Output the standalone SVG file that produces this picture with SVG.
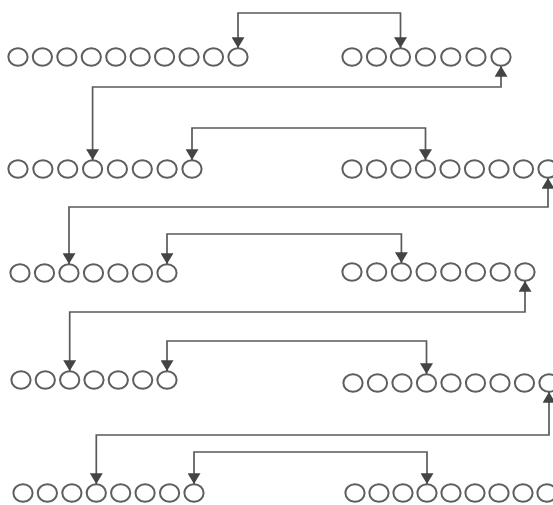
<svg xmlns="http://www.w3.org/2000/svg" xmlns:xlink="http://www.w3.org/1999/xlink" width="553" height="505" viewBox="0 0 553 505">
<style>
.o{fill:none;stroke:#5e5e5e;stroke-width:2}
.w{fill:none;stroke:#5a5a5a;stroke-width:1.7;marker-start:url(#ah);marker-end:url(#ah)}
</style>
<defs>
<ellipse id="o" class="o" cx="0" cy="0" rx="9.6" ry="8.8"/>
<marker id="ah" markerUnits="userSpaceOnUse" markerWidth="13" markerHeight="13" viewBox="0 0 10 12" refX="10" refY="6" orient="auto-start-reverse">
<path d="M0,0 L10,6 L0,12 z" fill="#444"/>
</marker>
</defs>
<rect width="553" height="505" fill="#fff"/>
<g id="row1-left">
<use href="#o" x="18" y="57"/><use href="#o" x="42.4" y="57"/><use href="#o" x="66.9" y="57"/><use href="#o" x="91.3" y="57"/><use href="#o" x="115.8" y="57"/><use href="#o" x="140.2" y="57"/><use href="#o" x="164.6" y="57"/><use href="#o" x="189.1" y="57"/><use href="#o" x="213.5" y="57"/><use href="#o" x="238" y="57"/>
</g>
<g id="row1-right">
<use href="#o" x="352" y="57"/><use href="#o" x="376.5" y="57"/><use href="#o" x="400.5" y="57"/><use href="#o" x="425.5" y="57"/><use href="#o" x="450.8" y="57"/><use href="#o" x="476" y="57"/><use href="#o" x="501" y="57"/>
</g>
<g id="row2-left">
<use href="#o" x="18" y="169"/><use href="#o" x="42.9" y="169"/><use href="#o" x="67.7" y="169"/><use href="#o" x="92.6" y="169"/><use href="#o" x="117.4" y="169"/><use href="#o" x="142.3" y="169"/><use href="#o" x="167.1" y="169"/><use href="#o" x="192" y="169"/>
</g>
<g id="row2-right">
<use href="#o" x="352" y="169"/><use href="#o" x="376.5" y="169"/><use href="#o" x="401" y="169"/><use href="#o" x="425.5" y="169"/><use href="#o" x="450" y="169"/><use href="#o" x="474.5" y="169"/><use href="#o" x="499" y="169"/><use href="#o" x="523.5" y="169"/><use href="#o" x="548" y="169"/>
</g>
<g id="row3-left">
<use href="#o" x="20" y="273"/><use href="#o" x="44.5" y="273"/><use href="#o" x="69" y="273"/><use href="#o" x="93.5" y="273"/><use href="#o" x="118" y="273"/><use href="#o" x="142.5" y="273"/><use href="#o" x="167" y="273"/>
</g>
<g id="row3-right">
<use href="#o" x="352" y="272"/><use href="#o" x="376.7" y="272"/><use href="#o" x="401.4" y="272"/><use href="#o" x="426.1" y="272"/><use href="#o" x="450.8" y="272"/><use href="#o" x="475.5" y="272"/><use href="#o" x="500.2" y="272"/><use href="#o" x="525" y="272"/>
</g>
<g id="row4-left">
<use href="#o" x="21" y="380"/><use href="#o" x="45.3" y="380"/><use href="#o" x="69.7" y="380"/><use href="#o" x="94" y="380"/><use href="#o" x="118.3" y="380"/><use href="#o" x="142.7" y="380"/><use href="#o" x="167" y="380"/>
</g>
<g id="row4-right">
<use href="#o" x="353" y="383"/><use href="#o" x="377.5" y="383"/><use href="#o" x="402" y="383"/><use href="#o" x="426.5" y="383"/><use href="#o" x="451" y="383"/><use href="#o" x="475.5" y="383"/><use href="#o" x="500" y="383"/><use href="#o" x="524.5" y="383"/><use href="#o" x="549" y="383"/>
</g>
<g id="row5-left">
<use href="#o" x="23" y="493"/><use href="#o" x="47.4" y="493"/><use href="#o" x="71.9" y="493"/><use href="#o" x="96.3" y="493"/><use href="#o" x="120.7" y="493"/><use href="#o" x="145.1" y="493"/><use href="#o" x="169.6" y="493"/><use href="#o" x="194" y="493"/>
</g>
<g id="row5-right">
<use href="#o" x="355" y="493"/><use href="#o" x="379" y="493"/><use href="#o" x="403" y="493"/><use href="#o" x="427" y="493"/><use href="#o" x="451" y="493"/><use href="#o" x="475" y="493"/><use href="#o" x="499" y="493"/><use href="#o" x="523" y="493"/><use href="#o" x="547" y="493"/>
</g>
<g id="connectors">
<path class="w" d="M238,48 V13 H400.5 V48"/>
<path class="w" d="M501,66 V87 H92.6 V160"/>
<path class="w" d="M192,160 V128 H425.5 V160"/>
<path class="w" d="M548,178 V207 H69 V264"/>
<path class="w" d="M167,264 V234 H401.4 V263"/>
<path class="w" d="M525,281 V312 H69.7 V371"/>
<path class="w" d="M167,371 V341 H426.5 V374"/>
<path class="w" d="M549,392 V435 H96.3 V484"/>
<path class="w" d="M194,484 V452 H427 V484"/>
</g>
</svg>
